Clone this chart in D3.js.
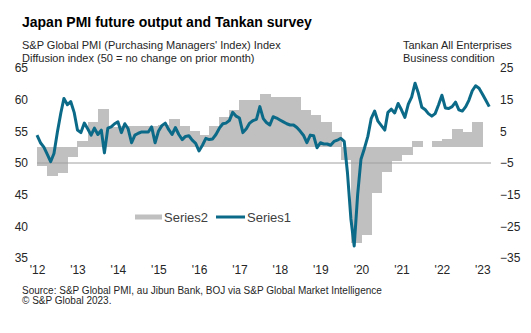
<!DOCTYPE html>
<html lang="en">
<head>
<meta charset="UTF-8">
<title>Japan PMI future output and Tankan survey</title>
<script src="https://d3js.org/d3.v7.min.js"></script>
<style>
  body { margin: 0; background: #fff; }
  svg { display: block; font-family: "Liberation Sans", Arial, sans-serif; }
  .tick text { fill: #262626; }
</style>
</head>
<body>
<svg id="chart" width="531" height="333"></svg>
<script>
// PMI future output index, monthly from Jul 2012
const pmiStart = new Date(2012, 6, 1);
const pmiFutureOutput = [
  54.4, 53.2, 52.5, 51.4, 50.2, 51.5, 54.9, 57.9, 60.2, 59.2, 59.7, 58.0,
  55.2, 54.8, 56.3, 55.4, 54.4, 55.5, 54.5, 55.2, 51.6, 55.5, 55.7, 56.2,
  56.5, 54.8, 56.2, 55.4, 53.2, 54.4, 54.7, 54.9, 54.9, 54.9, 55.7, 53.2,
  55.0, 55.9, 56.3, 55.3, 54.5, 55.6, 54.5, 53.7, 54.2, 54.3, 53.6, 53.1,
  51.9, 52.8, 53.9, 53.7, 53.8, 54.5, 55.5, 56.2, 56.3, 56.7, 58.0, 57.4,
  57.1, 54.8, 55.4, 56.3, 56.7, 56.9, 58.9, 57.0, 56.4, 56.0, 57.3, 57.1,
  56.8, 56.5, 56.2, 56.0, 56.0, 55.6, 55.0, 54.3, 53.2, 54.4, 54.3, 52.4,
  53.2, 53.0, 53.0, 52.8, 53.4, 53.6, 53.9, 53.4, 48.5, 41.2, 36.9, 45.0,
  50.6, 52.3, 54.2, 57.0, 58.2, 56.6, 55.9, 55.2, 58.0, 58.5, 57.9, 59.4,
  58.4, 57.2, 59.3, 60.4, 62.6, 61.0, 58.8, 58.4, 57.8, 57.4, 57.8, 59.2,
  60.7, 58.7, 58.6, 58.9, 59.6, 58.4, 58.2, 58.9, 59.9, 61.4, 62.2, 61.8,
  60.9, 59.9, 58.9
];

// Tankan all enterprises business condition DI, one value per quarter
const tankanStart = new Date(2012, 6, 1);
const tankanBusiness = [
  -6, -9, -8, -3, 2, 8, 12, 6.5, 6.7, 6.8, 6.8, 6.8,
  7, 8.8, 6.8, 5, 4, 6.8, 9.6, 11.7, 15, 15, 16.8, 15.8,
  15.8, 15.8, 11.7, 10.2, 8, 4.9, -4, -30.4, -27.7, -14.6, -7.7, -4.5,
  -2.5, 1.8, 0, 1.8, 2.6, 5.7, 4.9, 7.9
];

const yearLabels = ["'12", "'13", "'14", "'15", "'16", "'17", "'18", "'19", "'20", "'21", "'22", "'23"];
const leftTicks = [35, 40, 45, 50, 55, 60, 65];
const rightTicks = [-35, -25, -15, -5, 5, 15, 25];
const noChangeLevel = 50;

const teal = "#0b6a88";
const barGray = "#c0c0c0";

const pmiData = pmiFutureOutput.map((v, i) => ({ date: d3.timeMonth.offset(pmiStart, i), value: v }));
const tankanData = tankanBusiness.map((v, i) => ({
  start: d3.timeMonth.offset(tankanStart, i * 3),
  end: d3.timeMonth.offset(tankanStart, i * 3 + 3),
  value: v
}));

const svg = d3.select("#chart");

const x = d3.scaleTime()
  .domain([pmiStart, d3.timeMonth.offset(pmiStart, pmiFutureOutput.length - 1)])
  .range([37, 37 + (pmiFutureOutput.length - 1) * 3.375]);

const yLeft = d3.scaleLinear().domain([35, 65]).range([258, 68]);
const yRight = d3.scaleLinear().domain([-35, 25]).range([258, 68]);

// titles
svg.append("text")
  .attr("x", 22).attr("y", 26.5)
  .attr("font-size", 14).attr("font-weight", "bold").attr("fill", "#000")
  .text("Japan PMI future output and Tankan survey");

const leftSub = ["S&P Global PMI (Purchasing Managers' Index) Index", "Diffusion index (50 = no change on prior month)"];
const rightSub = ["Tankan All Enterprises", "Business condition"];
svg.selectAll(".sub-left").data(leftSub).join("text")
  .attr("class", "sub-left")
  .attr("x", 22).attr("y", (d, i) => 48.5 + i * 13)
  .attr("font-size", 11).attr("fill", "#262626")
  .text(d => d);
svg.selectAll(".sub-right").data(rightSub).join("text")
  .attr("class", "sub-right")
  .attr("x", 403).attr("y", (d, i) => 48.5 + i * 13)
  .attr("font-size", 11).attr("fill", "#262626")
  .text(d => d);

// tankan bars (right axis); a quarter wide each, drawn edge to edge
svg.append("g")
  .attr("shape-rendering", "crispEdges")
  .selectAll("rect")
  .data(tankanData)
  .join("rect")
  .attr("x", d => x(d.start))
  .attr("width", d => x(d.end) - x(d.start) + 1)
  .attr("y", d => Math.min(yRight(d.value), yRight(0)))
  .attr("height", d => Math.abs(yRight(d.value) - yRight(0)))
  .attr("fill", barGray);

// 50 = no change line
svg.append("line")
  .attr("x1", 37).attr("x2", 491)
  .attr("y1", yLeft(noChangeLevel)).attr("y2", yLeft(noChangeLevel))
  .attr("stroke", "#a0a0a0").attr("stroke-width", 1);

// PMI line (left axis)
svg.append("path")
  .datum(pmiData)
  .attr("fill", "none")
  .attr("stroke", teal)
  .attr("stroke-width", 3)
  .attr("stroke-linejoin", "round")
  .attr("d", d3.line().x(d => x(d.date)).y(d => yLeft(d.value)));

// axes
const leftAxis = svg.append("g")
  .attr("transform", "translate(29,0)")
  .call(d3.axisLeft(yLeft).tickValues(leftTicks).tickSize(0).tickPadding(1));
const rightAxis = svg.append("g")
  .attr("transform", "translate(499,0)")
  .call(d3.axisRight(yRight).tickValues(rightTicks).tickSize(0).tickPadding(1));
const bottomAxis = svg.append("g")
  .attr("transform", "translate(0,262)")
  .call(d3.axisBottom(x)
    .tickValues(yearLabels.map((d, i) => new Date(2012 + i, 6, 1)))
    .tickFormat((d, i) => yearLabels[i])
    .tickSize(0).tickPadding(3));

[leftAxis, rightAxis, bottomAxis].forEach(g => {
  g.select(".domain").remove();
  g.selectAll("text")
    .attr("font-size", 12)
    .attr("font-family", "'Liberation Sans', Arial, sans-serif");
});

// legend
const legend = svg.append("g").attr("transform", "translate(135,217)");
legend.append("rect").attr("x", 0).attr("y", -2.5).attr("width", 27).attr("height", 5).attr("fill", barGray);
legend.append("text").attr("x", 29).attr("y", 4.5).attr("font-size", 13).attr("fill", "#404040").text("Series2");
legend.append("line").attr("x1", 81).attr("x2", 110).attr("y1", 0).attr("y2", 0)
  .attr("stroke", teal).attr("stroke-width", 3);
legend.append("text").attr("x", 112).attr("y", 4.5).attr("font-size", 13).attr("fill", "#404040").text("Series1");

// source
const notes = ["Source: S&P Global PMI, au Jibun Bank, BOJ via S&P Global Market Intelligence", "\u00a9 S&P Global 2023."];
svg.selectAll(".note").data(notes).join("text")
  .attr("class", "note")
  .attr("x", 22).attr("y", (d, i) => 294 + i * 9.5)
  .attr("font-size", 10).attr("fill", "#262626")
  .text(d => d);
</script>
</body>
</html>
